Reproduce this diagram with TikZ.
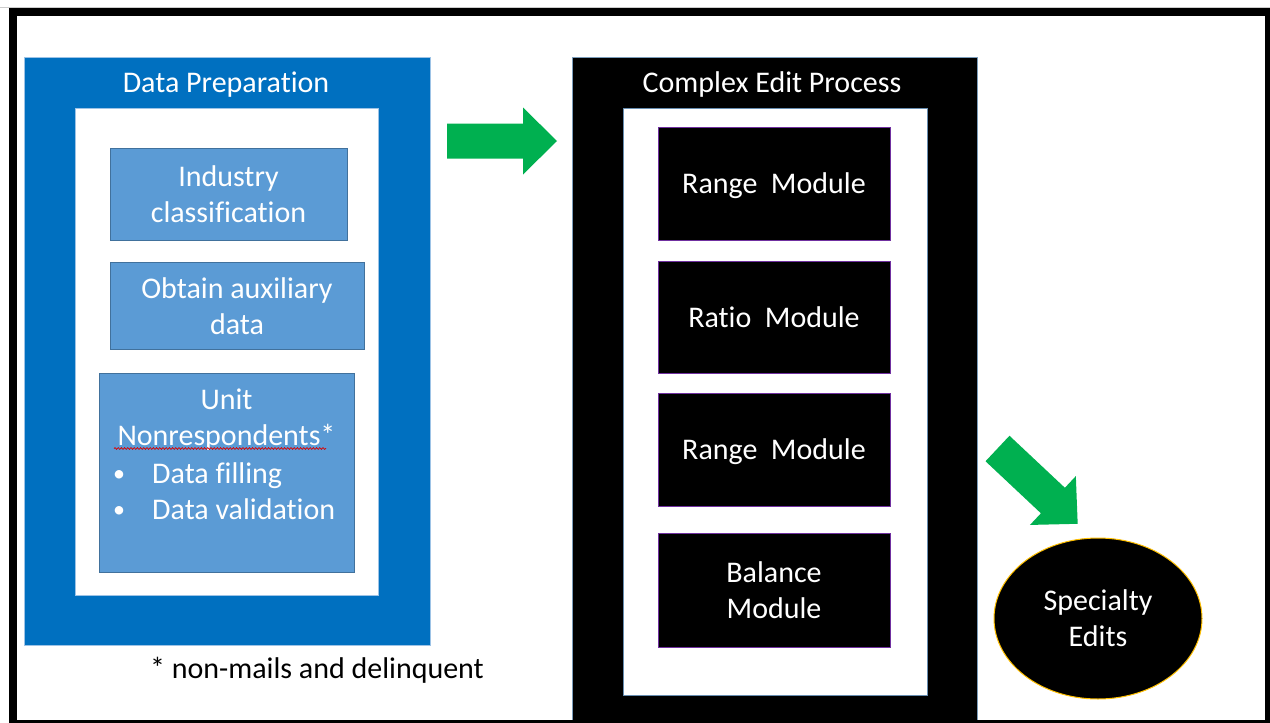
\documentclass[tikz,border=0pt]{standalone}
\usepackage{fontspec}
\setmainfont{Carlito}[Ligatures=NoCommon]
\usetikzlibrary{shapes.geometric,decorations.pathmorphing}

\definecolor{prepblue}{HTML}{0070C0}
\definecolor{stepblue}{HTML}{5B9BD5}
\definecolor{stepedge}{HTML}{41719C}
\definecolor{paleedge}{HTML}{9DC3E6}
\definecolor{flowgreen}{HTML}{00B050}
\definecolor{modpurple}{HTML}{7030A0}
\definecolor{ringgold}{HTML}{FFC000}

\begin{document}
\begin{tikzpicture}[x=1pt,y=-1pt,
  label30/.style={font=\fontsize{30}{36.5}\selectfont, align=center},
  whitetext/.style={label30, text=white},
  lowered/.style={text depth=0pt, yshift=-2pt},
  region/.style={anchor=north west, inner sep=0pt, outer sep=0pt, line width=1pt},
  prepouter/.style={region, fill=prepblue, draw=paleedge},
  editouter/.style={region, fill=black, draw=stepedge!70},
  innerpane/.style={region, fill=white, draw=paleedge},
  prepstep/.style={region, fill=stepblue, draw=stepedge, whitetext, anchor=center},
  module/.style={region, fill=black, draw=modpurple, whitetext, anchor=center,
    minimum width=232pt},
  blockarrow/.pic={
    \fill[flowgreen] (0,-17.5) -- (76,-17.5) -- (76,-33.5) -- (110,0)
      -- (76,33.5) -- (76,17.5) -- (0,17.5) -- cycle;
  }
]
\useasboundingbox (0,0) rectangle (1270,723);
\fill[white] (0,0) rectangle (1270,723);
\draw[black!20, line width=0.8pt] (0,7.4) -- (1270,7.4);

% Data preparation panel
\node[prepouter, minimum width=406pt, minimum height=588pt] (prep) at (24,57) {};
\node[whitetext, anchor=base] (preptitle) at (226,92) {Data Preparation};
\node[innerpane, minimum width=303pt, minimum height=487pt] (prepin) at (75,108) {};
\node[prepstep, minimum width=237pt, minimum height=92pt] (industry) at (228.5,194)
  {};
\node[whitetext, anchor=base] (industrytxt) at (228.5,186) {Industry};
\node[whitetext, anchor=base] (classtxt) at (228.5,222) {classification};
\node[prepstep, minimum width=254pt, minimum height=87pt] (auxiliary) at (237,305.5)
  {};
\node[whitetext, anchor=base] (obtaintxt) at (237,298) {Obtain auxiliary};
\node[whitetext, anchor=base] (datatxt) at (237,334) {data};
\node[prepstep, minimum width=255pt, minimum height=199pt] (unitbox) at (226.5,472.5) {};
\node[whitetext, anchor=base] (unitline) at (226.5,409) {Unit};
\node[whitetext, anchor=base] (nonresp) at (226.5,445) {Nonrespondents*};
\draw[red!85!black, line width=0.7pt, decorate,
  decoration={snake, amplitude=0.9pt, segment length=3.2pt}]
  (114,448.5) -- (326,448.5);
\node[whitetext, anchor=base west, inner sep=0pt, scale=0.8] (bulA) at (113,481) {\textbullet};
\node[whitetext, anchor=base west, inner sep=0pt] (fill) at (152,483) {Data filling};
\node[whitetext, anchor=base west, inner sep=0pt, scale=0.8] (bulB) at (113,517) {\textbullet};
\node[whitetext, anchor=base west, inner sep=0pt] (valid) at (152,519) {Data validation};
\node[label30, text=black, anchor=base] (footnote) at (317,678) {* non-mails and delinquent};

% Complex edit panel
\node[editouter, minimum width=405pt, minimum height=670pt] (edit) at (572,57) {};
\node[whitetext, anchor=base] (edittitle) at (772,92) {Complex Edit Process};
\node[innerpane, draw=stepedge!80, minimum width=304pt, minimum height=587pt] (editin) at (623,108) {};
\node[module, minimum height=113pt] (range1) at (774,183.5) {};
\node[whitetext, anchor=base] (range1txt) at (774,193) {Range\ \ Module};
\node[module, minimum height=112pt] (ratio) at (774,317) {};
\node[whitetext, anchor=base] (ratiotxt) at (774,327) {Ratio\ \ Module};
\node[module, minimum height=113pt] (range2) at (774,449.5) {};
\node[whitetext, anchor=base] (range2txt) at (774,459) {Range\ \ Module};
\node[module, minimum height=114pt] (balance) at (774,590) {};
\node[whitetext, anchor=base] (balancetxt) at (774,582) {Balance};
\node[whitetext, anchor=base] (moduletxt) at (774,618) {Module};

% Specialty edits
\node[ellipse, fill=black, draw=ringgold, line width=1pt, inner sep=0pt,
  minimum width=208pt, minimum height=161pt] (special) at (1098,618.5) {};
\node[whitetext, anchor=base] (specialtxt) at (1098,610) {Specialty};
\node[whitetext, anchor=base] (editstxt) at (1098,646) {Edits};

% Flow arrows
\pic at (447,141) {blockarrow};
\pic[rotate=-43.2] at (997.5,448.5) {blockarrow};

% Frame
\draw[black, line width=8pt] (13,12) rectangle (1269,724);
\end{tikzpicture}
\end{document}
